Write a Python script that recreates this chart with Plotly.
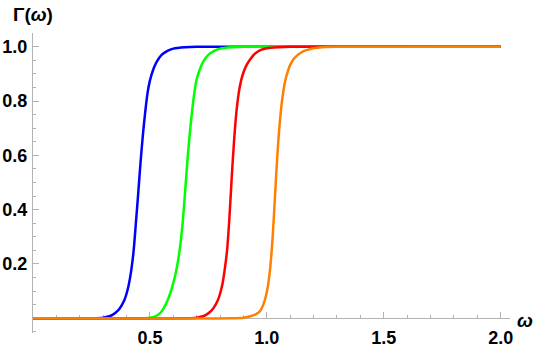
import plotly.graph_objects as go

# values
omega_blue = [0, 0.25, 0.30, 0.33, 0.35, 0.37, 0.39, 0.40, 0.41, 0.42, 0.43, 0.44, 0.45, 0.46, 0.47, 0.48, 0.49, 0.50, 0.515, 0.53, 0.55, 0.575, 0.60, 0.65, 0.70, 2.0]
gamma_blue = [0, 0, 0.002, 0.008, 0.018, 0.035, 0.065, 0.09, 0.125, 0.175, 0.245, 0.35, 0.46, 0.575, 0.675, 0.76, 0.83, 0.875, 0.918, 0.946, 0.97, 0.985, 0.993, 0.998, 1.0, 1.0]

omega_green = [0, 0.45, 0.50, 0.53, 0.55, 0.57, 0.59, 0.60, 0.61, 0.62, 0.63, 0.64, 0.65, 0.66, 0.67, 0.68, 0.69, 0.70, 0.715, 0.73, 0.75, 0.775, 0.80, 0.85, 0.90, 2.0]
gamma_green = [0, 0, 0.002, 0.01, 0.025, 0.055, 0.1, 0.13, 0.165, 0.21, 0.27, 0.35, 0.46, 0.575, 0.675, 0.76, 0.83, 0.88, 0.92, 0.948, 0.97, 0.985, 0.993, 0.998, 1.0, 1.0]

omega_red = [0, 0.65, 0.70, 0.73, 0.75, 0.77, 0.79, 0.80, 0.81, 0.82, 0.83, 0.84, 0.85, 0.86, 0.87, 0.88, 0.89, 0.90, 0.915, 0.93, 0.95, 0.975, 1.00, 1.05, 1.10, 2.0]
gamma_red = [0, 0, 0.002, 0.008, 0.018, 0.035, 0.065, 0.09, 0.125, 0.18, 0.25, 0.37, 0.52, 0.655, 0.76, 0.83, 0.875, 0.905, 0.935, 0.955, 0.975, 0.988, 0.994, 0.998, 1.0, 1.0]

omega_orange = [0, 0.85, 0.90, 0.93, 0.95, 0.97, 0.985, 0.995, 1.005, 1.015, 1.025, 1.035, 1.045, 1.055, 1.065, 1.078, 1.09, 1.10, 1.115, 1.13, 1.155, 1.18, 1.205, 1.25, 1.30, 2.0]
gamma_orange = [0, 0, 0.002, 0.007, 0.013, 0.025, 0.05, 0.078, 0.12, 0.19, 0.30, 0.45, 0.60, 0.715, 0.80, 0.872, 0.91, 0.933, 0.955, 0.968, 0.983, 0.99, 0.995, 0.999, 1.0, 1.0]

x_ticks = [0.5, 1.0, 1.5, 2.0]
x_labels = ["0.5", "1.0", "1.5", "2.0"]
y_ticks = [0.2, 0.4, 0.6, 0.8, 1.0]
y_labels = ["0.2", "0.4", "0.6", "0.8", "1.0"]

series = [
    (omega_blue, gamma_blue, "#0000ff"),
    (omega_green, gamma_green, "#00ff00"),
    (omega_red, gamma_red, "#ff0000"),
    (omega_orange, gamma_orange, "#ff8000"),
]

fig = go.Figure()
for xs, ys, col in series:
    fig.add_trace(go.Scatter(x=xs, y=ys, mode="lines",
                             line=dict(color=col, width=2.5, shape="spline", smoothing=0.8),
                             showlegend=False))

axis_col = "#b3b3b3"
tick_font = dict(family="Liberation Sans, Arial", size=18, color="black", weight="bold")
y_lo, y_hi = -0.0545, 1.0505

fig.update_layout(
    width=540, height=347,
    margin=dict(l=33, r=30, t=33, b=14),
    paper_bgcolor="white", plot_bgcolor="white",
    xaxis=dict(range=[0, 2.04], showgrid=False, zeroline=False, automargin=False,
               showline=True, linecolor=axis_col, linewidth=1, layer="below traces",
               anchor="free", position=-y_lo / (y_hi - y_lo),
               tickvals=x_ticks, ticktext=x_labels, ticks="inside",
               ticklen=6, tickcolor=axis_col, tickfont=tick_font, ticklabelstandoff=3,
               minor=dict(dtick=0.1, tick0=0, ticks="inside", ticklen=3, tickcolor=axis_col)),
    yaxis=dict(range=[y_lo, y_hi], showgrid=False, zeroline=False, automargin=False,
               showline=True, linecolor=axis_col, linewidth=1, layer="below traces",
               tickvals=y_ticks, ticktext=y_labels, ticks="inside",
               ticklen=6, tickcolor=axis_col, tickfont=tick_font, ticklabelstandoff=1,
               minor=dict(dtick=0.05, tick0=0, ticks="inside", ticklen=3, tickcolor=axis_col)),
    annotations=[
        dict(text="<b>Γ(<i>ω</i>)</b>", xref="paper", yref="paper", x=0, y=1.063,
             xanchor="center", yanchor="middle", showarrow=False,
             font=dict(family="Liberation Sans, Arial", size=19, color="black")),
        dict(text="<b><i>ω</i></b>", xref="paper", yref="paper", x=1.031, y=0.043,
             xanchor="center", yanchor="middle", showarrow=False,
             font=dict(family="Liberation Sans, Arial", size=19, color="black")),
    ],
)

fig.write_html("out.html", config={"displayModeBar": False},
               post_script="document.body.style.margin='0';")
